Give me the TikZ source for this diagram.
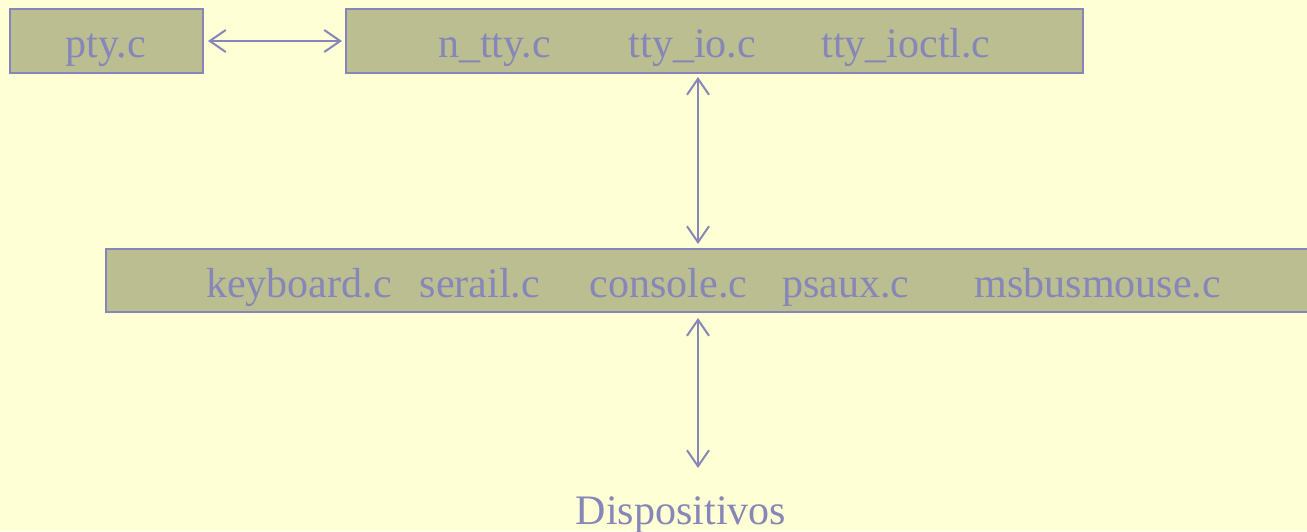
\documentclass[tikz,border=0pt]{standalone}
\usepackage{fontspec}
\setmainfont{Liberation Serif}
\usetikzlibrary{arrows.meta}
\definecolor{bgc}{HTML}{FFFFD6}
\definecolor{boxc}{HTML}{BBBE91}
\definecolor{linec}{HTML}{8686B8}
\tikzset{
  filebox/.style={draw=linec, fill=boxc, line width=2pt, rectangle, inner sep=0pt},
  lbl/.style={text=linec, anchor=base, inner sep=0pt, font=\fontsize{42}{46}\selectfont},
  conn/.style={draw=linec, line width=2pt, {Straight Barb[length=16pt,width=22pt]}-{Straight Barb[length=16pt,width=22pt]}}
}
\begin{document}
\begin{tikzpicture}[x=1pt,y=-1pt]
\fill[bgc] (0,0) rectangle (1307,531);
\useasboundingbox (0,0) rectangle (1307,531);
\begin{scope}
\clip (0,0) rectangle (1307,531);
\node[filebox, minimum width=193pt, minimum height=64pt] (pty) at (106.5,41) {};
\node[filebox, minimum width=737pt, minimum height=64pt] (top) at (714.5,41) {};
\node[filebox, minimum width=1210pt, minimum height=63pt] (mid) at (711,280.5) {};
\end{scope}
\node[lbl] (ptyc) at (106,57) {pty.c};
\node[lbl] (ntty) at (494.5,57) {n\_tty.c};
\node[lbl] (ttyio) at (692.5,57) {tty\_io.c};
\node[lbl] (ttyioctl) at (906,57) {tty\_ioctl.c};
\node[lbl] (kbd) at (299,297) {keyboard.c};
\node[lbl] (serail) at (480,297) {serail.c};
\node[lbl] (console) at (668.5,297) {console.c};
\node[lbl] (psaux) at (846,297) {psaux.c};
\node[lbl] (msbus) at (1098,297) {msbusmouse.c};
\node[lbl] (disp) at (681,524) {Dispositivos};
\coordinate (t1) at (698,77);
\coordinate (t2) at (698,244);
\coordinate (b1) at (698,318);
\coordinate (b2) at (698,468);
\draw[conn, shorten <=4pt, shorten >=3pt] (pty.east) -- (top.west);
\draw[conn] (t1) -- (t2);
\draw[conn] (b1) -- (b2);
\end{tikzpicture}
\end{document}
